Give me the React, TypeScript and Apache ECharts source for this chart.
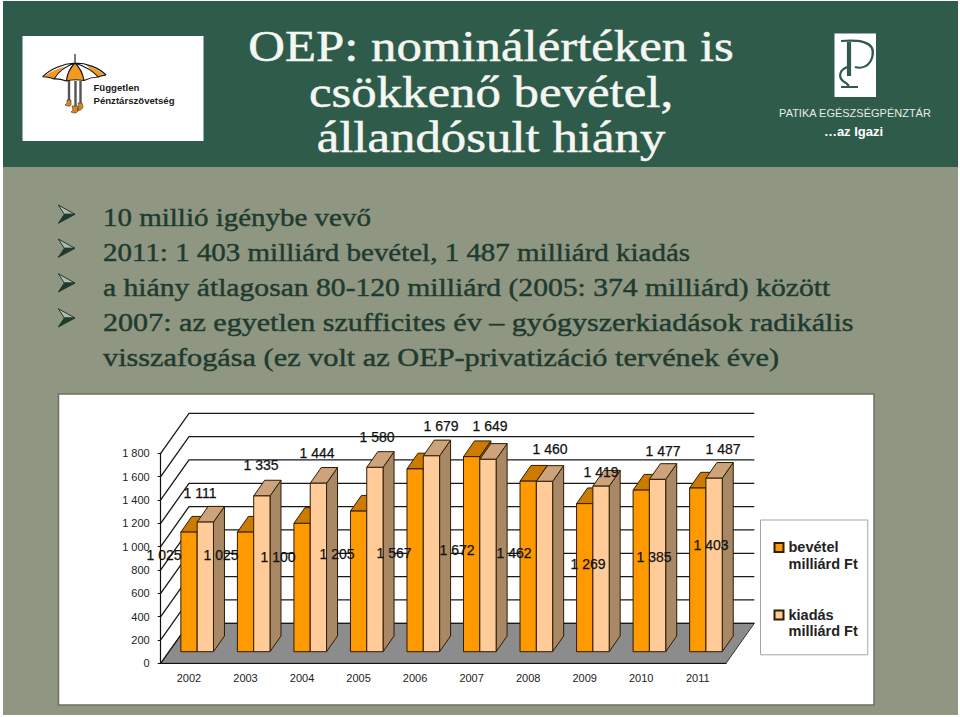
import React, { useEffect, useRef } from "react";
import * as echarts from "echarts";

const categories = ["2002", "2003", "2004", "2005", "2006", "2007", "2008", "2009", "2010", "2011"];
const revenue = [1025, 1025, 1100, 1205, 1567, 1672, 1462, 1269, 1385, 1403];
const expense = [1111, 1335, 1444, 1580, 1679, 1649, 1460, 1419, 1477, 1487];
const yTicks = [0, 200, 400, 600, 800, 1000, 1200, 1400, 1600, 1800];
const revenueName = "bevétel\nmilliárd Ft";
const expenseName = "kiadás\nmilliárd Ft";

const titleLines = ["OEP: nominálértéken is", "csökkenő bevétel,", "állandósult hiány"];
const bulletLines = [
  "10 millió igénybe vevő",
  "2011: 1 403 milliárd bevétel, 1 487 milliárd kiadás",
  "a hiány átlagosan 80-120 milliárd (2005: 374 milliárd) között",
  "2007: az egyetlen szufficites év – gyógyszerkiadások radikális",
  "visszafogása (ez volt az OEP-privatizáció tervének éve)",
];
const bulletScale = [1.115, 1.115, 1.14, 1.158, 1.165];

// Hand-placed label centres of the original chart
const revenueLabelX = [164, 221, 278, 337, 394, 457, 514, 588, 654, 711];
const revenueLabelY = [555, 555, 557, 554, 553, 550, 553, 564, 557, 545];
const expenseLabelX = [200, 261, 317, 377, 441, 490, 550, 601, 663, 723];
const expenseLabelY = [493, 465, 453, 437, 426, 426, 449, 472, 451, 449];

const SANS = '"Liberation Sans", Arial, sans-serif';
const SERIF = '"Liberation Serif", "Times New Roman", serif';
const INK = "#1f3b2f";
const HEADER = "#2f5b4a";
const SLIDE = "#8f9782";

const DEPTH_FRONT = [8.2, -11.6];
const DEPTH_BAR = [11, -15.7];
const DEPTH_WALL = [28.3, -40];
const BAR_W = 16.3;
const OUTLINE = "#2e1c05";

const fmt = (v: number) => String(v).replace(/(\d)(\d{3})$/, "$1 $2");

echarts.graphic.registerShape(
  "umbrellaOrange",
  echarts.graphic.extendPath(
    "M75 64 C70 68 67 74 66.5 80.5 C72 79 78 79 84 80 C83 74 80 68 75 64Z M66 66 C57 69 49 72 44 76.5 C47 77 51 77.5 54 79 C56 74 61 69 66 66Z M86 65 C91 70 95 74 98 77 C100 76 103 75.5 105.5 75.5 C100 71 93 67 86 65Z",
    {}
  )
);
echarts.graphic.registerShape(
  "umbrellaLines",
  echarts.graphic.extendPath(
    "M75 54 L75 63 M42.7 76.7 C50 69 63 63.5 75 63 C87 63 99 68 106 75 M42.7 76.7 C47 77 51 77.5 54 79 C58 78.5 62 79.5 66.5 81 C72 79.5 78 79.5 84 80.5 C88 78.5 93 77 98.3 77 C100 76 103 75.5 106 75 M75 63 C70 68 67 74 66.5 81 M75 63 C80 68 83 74 84 80.5 M75 63 C66 66 58 72 54 79 M75 63 C84 66 93 71 98.3 77",
    {}
  )
);
echarts.graphic.registerShape(
  "umbrellaBoots",
  echarts.graphic.extendPath(
    "M67 100 L71 100 L71 105 C70 107 67 106 65 105 L67 103Z M72 106 L78 106 L78 111 C76 114 73 113 71 112 L73 110Z M78 103 L82 103 L83 107 C82 110 79 111 77 110 L79 107Z",
    {}
  )
);
echarts.graphic.registerShape(
  "umbrellaLegs",
  echarts.graphic.extendPath(
    "M69 81 L69 100 M75.5 81 L75.5 106 M80.5 81 L80.5 103",
    {}
  )
);
echarts.graphic.registerShape(
  "patikaMark",
  echarts.graphic.extendPath(
    "M841 41 C856 40 876 40 872.5 56 C870 67 861 69 855 67 M848 42 L848 76 M850 42 L850 76 M847 67 C838 71 838 79 846 83 L849 86 M841 87 L858 87",
    {}
  )
);

const makeBarRenderer = (front: string, top: string, side: string, shift: number) => (params: any, api: any) => {
  const band = api.coord([api.value(0), 0]);
  const head = api.coord([api.value(0), api.value(1)]);
  const x0 = band[0] + DEPTH_FRONT[0] + shift;
  const x1 = x0 + BAR_W;
  const yB = band[1] + DEPTH_FRONT[1];
  const yT = head[1] + DEPTH_FRONT[1];
  const [dx, dy] = DEPTH_BAR;
  const line = { stroke: OUTLINE, lineWidth: 1 };
  return {
    type: "group",
    children: [
      { type: "polygon", shape: { points: [[x1, yB], [x1 + dx, yB + dy], [x1 + dx, yT + dy], [x1, yT]] }, style: { fill: side, ...line } },
      { type: "polygon", shape: { points: [[x0, yT], [x1, yT], [x1 + dx, yT + dy], [x0 + dx, yT + dy]] }, style: { fill: top, ...line } },
      { type: "rect", shape: { x: x0, y: yT, width: BAR_W, height: yB - yT }, style: { fill: front, ...line } },
    ],
  };
};

const makeLabelRenderer = (xs: number[], ys: number[]) => (params: any, api: any) => ({
  type: "text",
  x: xs[params.dataIndex],
  y: ys[params.dataIndex],
  style: {
    text: fmt(api.value(1)),
    fill: "#111",
    stroke: "#111",
    lineWidth: 0.25,
    font: `14px ${SANS}`,
    align: "center",
    verticalAlign: "middle",
  },
});

const buildOption = () => ({
  animation: false,
  backgroundColor: "#ffffff",
  textStyle: { fontFamily: SANS },
  graphic: [
    { type: "rect", z: 0, shape: { x: 3, y: 1, width: 955, height: 714 }, style: { fill: SLIDE } },
    { type: "rect", z: 0, shape: { x: 3, y: 1, width: 955, height: 166 }, style: { fill: HEADER } },
    { type: "rect", z: 0, shape: { x: 22.5, y: 36, width: 181, height: 105 }, style: { fill: "#fff" } },
    { type: "umbrellaOrange", z: 1, style: { fill: "#f59a1e" } },
    { type: "umbrellaLines", z: 1, style: { fill: "none", stroke: "#111", lineWidth: 1.1 } },
    { type: "umbrellaLegs", z: 1, style: { fill: "none", stroke: "#555", lineWidth: 2.4 } },
    { type: "umbrellaBoots", z: 1, style: { fill: "#d08a2a", stroke: "#4a2f10", lineWidth: 0.6 } },
    { type: "text", z: 1, x: 93.5, y: 87.5, style: { text: "Független", fill: "#1a1a1a", font: `bold 9.6px ${SANS}`, verticalAlign: "middle" } },
    { type: "text", z: 1, x: 93.5, y: 100, style: { text: "Pénztárszövetség", fill: "#1a1a1a", font: `bold 9.6px ${SANS}`, verticalAlign: "middle" } },
    { type: "rect", z: 0, shape: { x: 834.5, y: 33.5, width: 41.5, height: 63.5 }, style: { fill: "#fff" } },
    { type: "patikaMark", z: 1, style: { fill: "none", stroke: HEADER, lineWidth: 2.2 } },
    { type: "text", z: 1, x: 855, y: 112.5, style: { text: "PATIKA EGÉSZSÉGPÉNZTÁR", fill: "#e6ece8", font: `11px ${SANS}`, align: "center", verticalAlign: "middle" } },
    { type: "text", z: 1, x: 853.5, y: 131, style: { text: "…az Igazi", fill: "#fff", font: `bold 13px ${SANS}`, align: "center", verticalAlign: "middle" } },
    ...titleLines.map((t, i) => ({
      type: "text", z: 1, x: 491, y: [46, 92, 137][i], scaleX: 1.13,
      style: { text: t, fill: "#f4f6f2", stroke: "#f4f6f2", lineWidth: 0.5, font: `45px ${SERIF}`, align: "center", verticalAlign: "middle" },
    })),
    ...bulletLines.map((t, i) => ({
      type: "text", z: 1, x: 103, y: 217 + i * 35, scaleX: bulletScale[i],
      style: { text: t, fill: INK, stroke: INK, lineWidth: 0.45, font: `26px ${SERIF}`, verticalAlign: "middle" },
    })),
    ...[214.3, 248.3, 283, 318].flatMap((y) => [
      { type: "polygon", z: 1, shape: { points: [[58.3, y - 9.3], [75, y], [64.3, y]] }, style: { fill: "#b4baa8", stroke: INK, lineWidth: 1 } },
      { type: "polygon", z: 1, shape: { points: [[58.3, y + 9], [75, y], [64.3, y]] }, style: { fill: INK, stroke: INK, lineWidth: 1 } },
    ]),
    { type: "rect", z: 0, shape: { x: 58.5, y: 394, width: 815.5, height: 311 }, style: { fill: "#fff", stroke: "#6c7062", lineWidth: 1.5 } },
  ],
  legend: {
    orient: "vertical",
    left: 760.5,
    top: 520,
    z: 8,
    data: [revenueName, expenseName],
    backgroundColor: "#fff",
    borderColor: "#a5a5a5",
    borderWidth: 1,
    borderRadius: 0,
    padding: [19, 10, 15, 13],
    itemGap: 34,
    itemWidth: 9,
    itemHeight: 34,
    icon: "path://M0 0L0 0M0 3H10V13H0Z M0 34L0 34",
    textStyle: { fontFamily: SANS, fontWeight: "bold", fontSize: 14.5, lineHeight: 16.7, color: "#222" },
  },
  grid: { left: 160.7, top: 453.3, width: 565.3, height: 210, containLabel: false },
  xAxis: {
    type: "category",
    data: categories,
    z: 5,
    axisLine: { lineStyle: { color: "#111", width: 1.2 } },
    axisTick: { length: 3, lineStyle: { color: "#111" } },
    axisLabel: { color: "#222", fontSize: 11, fontFamily: SANS, margin: 9 },
    splitLine: { show: false },
  },
  yAxis: {
    type: "value",
    min: 0,
    max: 1800,
    interval: 200,
    z: 5,
    axisLine: { show: true, lineStyle: { color: "#111", width: 1.2 } },
    axisTick: { show: true, length: 3, lineStyle: { color: "#111" } },
    axisLabel: { color: "#222", fontSize: 11, fontFamily: SANS, margin: 11, formatter: (v: number) => fmt(v) },
    splitLine: { show: false },
  },
  series: [
    {
      type: "custom",
      name: "floor",
      z: 3,
      silent: true,
      data: [[0, 0]],
      renderItem: (params: any, api: any) => {
        const { x, width } = params.coordSys;
        const y = api.coord([0, 0])[1];
        const [dx, dy] = DEPTH_WALL;
        return {
          type: "polygon",
          shape: { points: [[x, y], [x + width, y], [x + width + dx, y + dy], [x + dx, y + dy]] },
          style: { fill: "#8c8c8c", stroke: "#333", lineWidth: 1 },
        };
      },
    },
    {
      type: "custom",
      name: "walls",
      z: 3,
      silent: true,
      data: yTicks.map((v) => [0, v]),
      renderItem: (params: any, api: any) => {
        const { x, width } = params.coordSys;
        const y = api.coord([0, api.value(1)])[1];
        const [dx, dy] = DEPTH_WALL;
        return {
          type: "polyline",
          shape: { points: [[x, y], [x + dx, y + dy], [x + width + dx, y + dy]] },
          style: { fill: "none", stroke: "#1a1a1a", lineWidth: 1.3 },
        };
      },
    },
    {
      type: "custom",
      name: revenueName,
      z: 6,
      silent: true,
      itemStyle: { color: "#ff9900", borderColor: OUTLINE, borderWidth: 1 },
      encode: { x: 0, y: 1 },
      data: revenue.map((v, i) => [i, v]),
      renderItem: makeBarRenderer("#ff9900", "#cc7a00", "#a86500", -BAR_W),
    },
    {
      type: "custom",
      name: expenseName,
      z: 6,
      silent: true,
      itemStyle: { color: "#ffcc99", borderColor: OUTLINE, borderWidth: 1 },
      encode: { x: 0, y: 1 },
      data: expense.map((v, i) => [i, v]),
      renderItem: makeBarRenderer("#ffcc99", "#cca37a", "#a88865", 0),
    },
    {
      type: "custom",
      name: "revenue labels",
      z: 9,
      silent: true,
      data: revenue.map((v, i) => [i, v]),
      renderItem: makeLabelRenderer(revenueLabelX, revenueLabelY),
    },
    {
      type: "custom",
      name: "expense labels",
      z: 9,
      silent: true,
      data: expense.map((v, i) => [i, v]),
      renderItem: makeLabelRenderer(expenseLabelX, expenseLabelY),
    },
  ],
});

export default function App() {
  const ref = useRef<HTMLDivElement>(null);
  useEffect(() => {
    const chart = echarts.init(ref.current!, undefined, { renderer: "svg" });
    chart.setOption(buildOption() as any);
    return () => chart.dispose();
  }, []);
  return <div ref={ref} style={{ position: "absolute", left: 0, top: 0, width: 960, height: 717 }} />;
}
